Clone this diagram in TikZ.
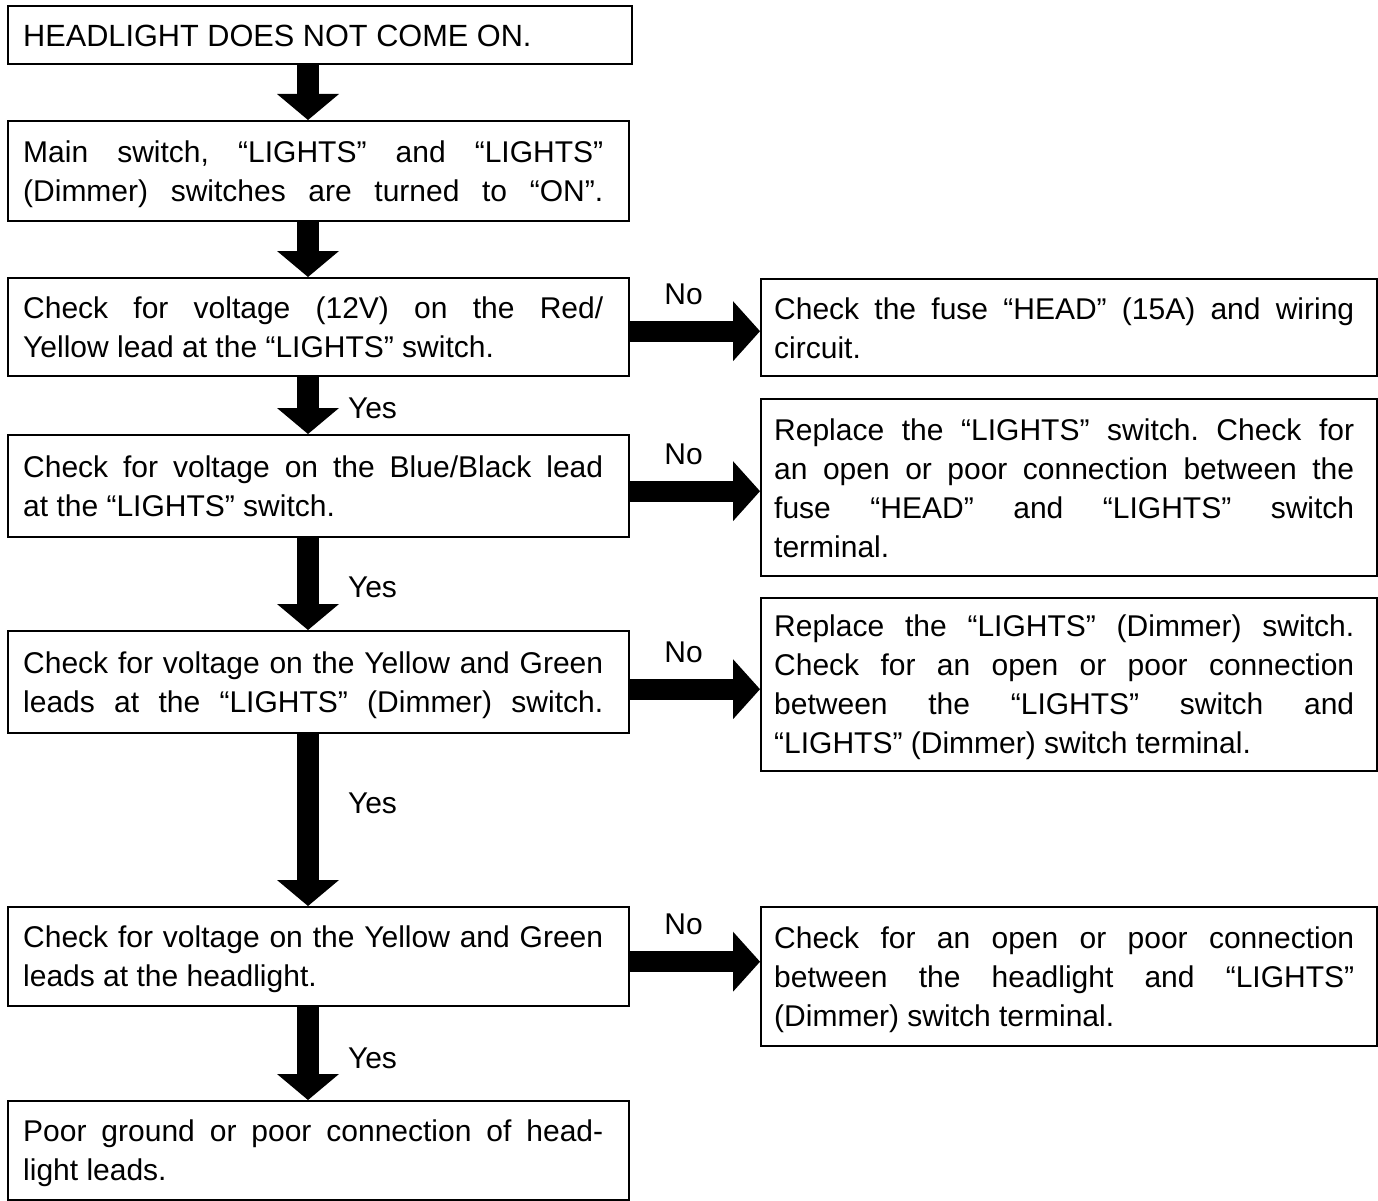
\documentclass[tikz,border=0pt]{standalone}
\usepackage{fontspec}
\setmainfont{Liberation Sans}
\usetikzlibrary{arrows.meta}
\newcommand\topst{\rule{0pt}{27pt}}
\newcommand\botst{\rule[-5pt]{0pt}{5pt}}
\newcommand\lpar[2][621pt]{\hbox to #1{\hskip15pt\parbox{580pt}{\frenchspacing\topst #2\botst}\hss}}
\newcommand\rpar[1]{\hbox to 616pt{\hskip13pt\parbox{580pt}{\frenchspacing\topst #1\botst}\hss}}
\newcommand\fulljust{\parfillskip=0pt\relax}
\hyphenpenalty=10000
\hbadness=10000
\tikzset{
  txt/.style={font=\fontsize{30pt}{39pt}\selectfont},
  box/.style={txt, draw, line width=2.4pt, inner sep=0pt, anchor=north west},
  downarr/.style={line width=22pt, -{Triangle[width=62pt,length=26pt,line width=0pt]}},
  noarr/.style={line width=21pt, -{Triangle[width=60pt,length=27pt,line width=0pt]}},
  yeslbl/.style={txt, anchor=west, inner sep=0pt, xshift=29pt},
  nolbl/.style={txt, anchor=base, inner sep=0pt, yshift=27pt},
}
\begin{document}
\begin{tikzpicture}[x=1pt,y=-1pt]
\fill[white] (0,0) rectangle (1378,1201);
\useasboundingbox (0,0) rectangle (1378,1201);
\coordinate (ax) at (308,0);
% left column
\node[box, minimum height=58pt] (b1) at (7,5)
  {\lpar[624pt]{\fontsize{30.7pt}{39pt}\selectfont HEADLIGHT DOES NOT COME ON.}};
\node[box, minimum height=100pt] (b2) at (7,120)
  {\lpar{\fulljust Main switch, “LIGHTS” and “LIGHTS”\linebreak
   (Dimmer) switches are turned to “ON”.}};
\node[box, minimum height=98pt] (b3) at (7,277)
  {\lpar{Check for voltage (12V) on the Red/\linebreak
   Yellow lead at the “LIGHTS” switch.}};
\node[box, minimum height=102pt] (b4) at (7,434)
  {\lpar{Check for voltage on the Blue/Black lead\linebreak
   at the “LIGHTS” switch.}};
\node[box, minimum height=102pt] (b5) at (7,630)
  {\lpar{\fulljust Check for voltage on the Yellow and Green\linebreak
   leads at the “LIGHTS” (Dimmer) switch.}};
\node[box, minimum height=99pt] (b6) at (7,906)
  {\lpar{Check for voltage on the Yellow and Green\linebreak
   leads at the headlight.}};
\node[box, minimum height=99pt] (b7) at (7,1100)
  {\lpar{Poor ground or poor connection of head-\linebreak
   light leads.}};
% right column
\node[box, minimum height=97pt] (r3) at (760,278)
  {\rpar{Check the fuse “HEAD” (15A) and wiring\linebreak
   circuit.}};
\node[box, minimum height=177pt] (r4) at (760,398)
  {\rpar{Replace the “LIGHTS” switch. Check for\linebreak
   an open or poor connection between the\linebreak
   fuse “HEAD” and “LIGHTS” switch\linebreak
   terminal.}};
\node[box, minimum height=173pt] (r5) at (760,597)
  {\rpar{Replace the “LIGHTS” (Dimmer) switch.\linebreak
   Check for an open or poor connection\linebreak
   between the “LIGHTS” switch and\linebreak
   “LIGHTS” (Dimmer) switch terminal.}};
\node[box, minimum height=139pt] (r6) at (760,906)
  {\rpar{Check for an open or poor connection\linebreak
   between the headlight and “LIGHTS”\linebreak
   (Dimmer) switch terminal.}};
% vertical arrows
\draw[downarr] (b1.south -| ax) -- (b2.north -| ax);
\draw[downarr] (b2.south -| ax) -- (b3.north -| ax);
\draw[downarr] (b3.south -| ax) -- node[yeslbl, pos=0.54] {Yes} (b4.north -| ax);
\draw[downarr] (b4.south -| ax) -- node[yeslbl, pos=0.53] {Yes} (b5.north -| ax);
\draw[downarr] (b5.south -| ax) -- node[yeslbl, pos=0.40] {Yes} (b6.north -| ax);
\draw[downarr] (b6.south -| ax) -- node[yeslbl, pos=0.55] {Yes} (b7.north -| ax);
% horizontal arrows
\draw[noarr] ([yshift=-4pt]b3.east) -- node[nolbl, pos=0.41] {No} ([yshift=-4pt]b3.east -| r3.west);
\draw[noarr] ([yshift=-5pt]b4.east) -- node[nolbl, pos=0.41] {No} ([yshift=-5pt]b4.east -| r4.west);
\draw[noarr] ([yshift=-7pt]b5.east) -- node[nolbl, pos=0.41] {No} ([yshift=-7pt]b5.east -| r5.west);
\draw[noarr] ([yshift=-5pt]b6.east) -- node[nolbl, pos=0.41] {No} ([yshift=-5pt]b6.east -| r6.west);
\end{tikzpicture}
\end{document}
